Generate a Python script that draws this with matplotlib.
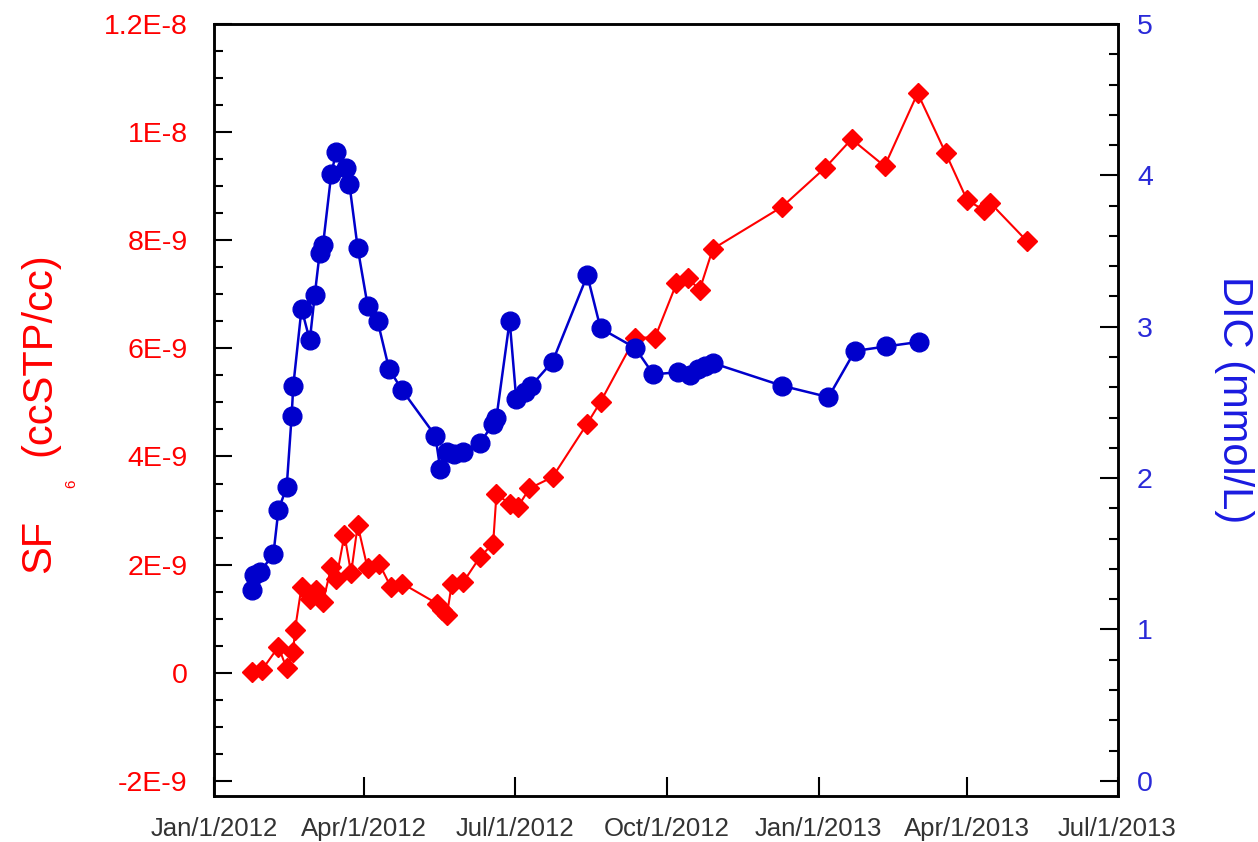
import numpy as np
import pandas as pd
import matplotlib
matplotlib.use("Agg")
import matplotlib.pyplot as plt
import matplotlib.dates as mdates
from matplotlib.ticker import FixedLocator, MultipleLocator

plt.rcParams['font.family'] = ['Liberation Sans', 'DejaVu Sans']

# SF6 (ccSTP/cc), valores en unidades de 1E-9
sf6_fechas = ['2012-01-24', '2012-01-30', '2012-02-09', '2012-02-14', '2012-02-18',
              '2012-02-19', '2012-02-23', '2012-02-28', '2012-03-03', '2012-03-07',
              '2012-03-12', '2012-03-15', '2012-03-20', '2012-03-24', '2012-03-28',
              '2012-04-03', '2012-04-10', '2012-04-17', '2012-04-24', '2012-05-15',
              '2012-05-18', '2012-05-21', '2012-05-24', '2012-05-31', '2012-06-10',
              '2012-06-18', '2012-06-20', '2012-06-28', '2012-07-03', '2012-07-10',
              '2012-07-24', '2012-08-14', '2012-08-22', '2012-09-12', '2012-09-24',
              '2012-10-07', '2012-10-14', '2012-10-21', '2012-10-29', '2012-12-10',
              '2013-01-05', '2013-01-21', '2013-02-10', '2013-03-02', '2013-03-19',
              '2013-04-01', '2013-04-11', '2013-04-15', '2013-05-07']
sf6_valores = [0.02, 0.05, 0.48, 0.08, 0.39, 0.79, 1.59, 1.37, 1.53, 1.31,
               1.96, 1.74, 2.55, 1.84, 2.73, 1.93, 2.02, 1.59, 1.65, 1.28,
               1.16, 1.07, 1.65, 1.68, 2.14, 2.39, 3.30, 3.13, 3.07, 3.41,
               3.62, 4.61, 5.01, 6.20, 6.20, 7.20, 7.30, 7.08, 7.84, 8.62,
               9.34, 9.87, 9.37, 10.72, 9.61, 8.74, 8.56, 8.69, 7.99]

# DIC (mmol/L)
dic_fechas = ['2012-01-24', '2012-01-25', '2012-01-29', '2012-02-06', '2012-02-09',
              '2012-02-14', '2012-02-17', '2012-02-18', '2012-02-23', '2012-02-28',
              '2012-03-02', '2012-03-05', '2012-03-07', '2012-03-12', '2012-03-15',
              '2012-03-21', '2012-03-23', '2012-03-28', '2012-04-03', '2012-04-09',
              '2012-04-16', '2012-04-24', '2012-05-14', '2012-05-17', '2012-05-21',
              '2012-05-25', '2012-05-31', '2012-06-10', '2012-06-18', '2012-06-20',
              '2012-06-28', '2012-07-02', '2012-07-07', '2012-07-11', '2012-07-24',
              '2012-08-14', '2012-08-22', '2012-09-12', '2012-09-23', '2012-10-08',
              '2012-10-15', '2012-10-20', '2012-10-24', '2012-10-29', '2012-12-10',
              '2013-01-07', '2013-01-23', '2013-02-11', '2013-03-03']
dic_valores = [1.26, 1.36, 1.38, 1.50, 1.79, 1.94, 2.41, 2.61, 3.12, 2.91,
               3.21, 3.49, 3.54, 4.01, 4.155, 4.05, 3.94, 3.52, 3.14, 3.04,
               2.72, 2.58, 2.28, 2.06, 2.17, 2.16, 2.17, 2.23, 2.36, 2.40,
               3.04, 2.52, 2.57, 2.61, 2.77, 3.34, 2.99, 2.86, 2.685, 2.70,
               2.68, 2.72, 2.74, 2.76, 2.61, 2.535, 2.84, 2.87, 2.90]

x_ticks = ['2012-01-01', '2012-04-01', '2012-07-01', '2012-10-01',
           '2013-01-01', '2013-04-01', '2013-07-01']
x_labels = ['Jan/1/2012', 'Apr/1/2012', 'Jul/1/2012', 'Oct/1/2012',
            'Jan/1/2013', 'Apr/1/2013', 'Jul/1/2013']
sf6_ticks = [-2e-9, 0, 2e-9, 4e-9, 6e-9, 8e-9, 1e-8, 1.2e-8]
sf6_labels = ['-2E-9', '0', '2E-9', '4E-9', '6E-9', '8E-9', '1E-8', '1.2E-8']
dic_ticks = [0, 1, 2, 3, 4, 5]

rojo = '#ff0000'
azul = '#0000cc'

fig = plt.figure(figsize=(12.58, 8.42), dpi=100)
ax = fig.add_axes([214 / 1258, 46 / 842, 903.5 / 1258, 772 / 842])
ax2 = ax.twinx()

ax.plot(pd.to_datetime(sf6_fechas), np.array(sf6_valores) * 1e-9, color=rojo,
        lw=1.5, marker='D', ms=10, mec=rojo, mfc=rojo)
ax2.plot(pd.to_datetime(dic_fechas), dic_valores, color=azul,
         lw=1.8, marker='o', ms=13.5, mec=azul, mfc=azul)

ax.set_xlim(pd.Timestamp('2012-01-01'), pd.Timestamp('2013-07-01'))
ax.set_ylim(-2.28e-9, 1.2e-8)
ax2.set_ylim(-0.1, 5)

ax.xaxis.set_major_locator(FixedLocator(mdates.date2num(pd.to_datetime(x_ticks))))
ax.set_xticklabels(x_labels)
ax.yaxis.set_major_locator(FixedLocator(sf6_ticks))
ax.set_yticklabels(sf6_labels)
ax.yaxis.set_minor_locator(MultipleLocator(5e-10))
ax2.yaxis.set_major_locator(FixedLocator(dic_ticks))
ax2.yaxis.set_minor_locator(MultipleLocator(0.2))

ax.tick_params(axis='x', direction='in', length=14, width=1.5, top=False,
               pad=15, labelsize=18.5, labelcolor='#333333')
ax.tick_params(axis='y', which='major', direction='in', length=13, width=1.5,
               right=False, pad=19, labelsize=20.5, labelcolor=rojo)
ax.tick_params(axis='y', which='minor', direction='in', length=6.5, width=1.5, right=False)
ax2.tick_params(axis='y', which='major', direction='in', length=13, width=1.5,
                left=False, pad=14, labelsize=20.5, labelcolor='#2a2ad8')
ax2.tick_params(axis='y', which='minor', direction='in', length=6.5, width=1.5, left=False)

for a in (ax, ax2):
    for s in a.spines.values():
        s.set_linewidth(1.8)

# etiquetas de los ejes, SF6 con el subindice pequeño
fig.text(50, 842 - 573, 'SF', rotation=90, rotation_mode='anchor', ha='left',
         va='baseline', fontsize=30, color=rojo, transform=None)
fig.text(75, 842 - 488, '6', rotation=90, rotation_mode='anchor', ha='left',
         va='baseline', fontsize=11, color=rojo, transform=None)
fig.text(50, 842 - 456, '(ccSTP/cc)', rotation=90, rotation_mode='anchor', ha='left',
         va='baseline', fontsize=30, color=rojo, transform=None)
fig.text(1234, 842 - 400, 'DIC (mmol/L)', rotation=270, ha='center', va='center',
         fontsize=30, color='#1a1ae0', transform=None)

fig.savefig('out.png', dpi=100)
